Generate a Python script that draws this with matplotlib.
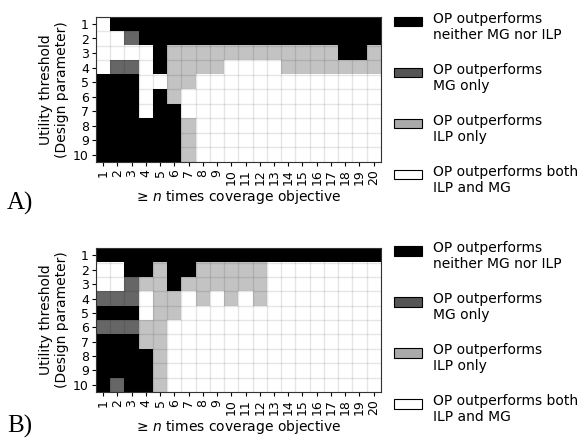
import numpy as np
import matplotlib
matplotlib.use("Agg")
import matplotlib.pyplot as plt
from matplotlib.colors import ListedColormap
from matplotlib.patches import Patch, Rectangle
from matplotlib.legend_handler import HandlerPatch

# Categories: 0 = OP outperforms both, 1 = ILP only, 2 = MG only, 3 = neither
categories = ["OP outperforms\nneither MG nor ILP", "OP outperforms\nMG only",
              "OP outperforms\nILP only", "OP outperforms both\nILP and MG"]
category_codes = [3, 2, 1, 0]

thresholds = list(range(1, 11))
coverage_n = list(range(1, 21))

grid_a = [
    [0, 3, 3, 3, 3, 3, 3, 3, 3, 3, 3, 3, 3, 3, 3, 3, 3, 3, 3, 3],
    [0, 0, 2, 3, 3, 3, 3, 3, 3, 3, 3, 3, 3, 3, 3, 3, 3, 3, 3, 3],
    [0, 0, 0, 0, 3, 1, 1, 1, 1, 1, 1, 1, 1, 1, 1, 1, 1, 3, 3, 1],
    [0, 2, 2, 0, 3, 1, 1, 1, 1, 0, 0, 0, 0, 1, 1, 1, 1, 1, 1, 1],
    [3, 3, 3, 0, 0, 1, 1, 0, 0, 0, 0, 0, 0, 0, 0, 0, 0, 0, 0, 0],
    [3, 3, 3, 0, 3, 1, 0, 0, 0, 0, 0, 0, 0, 0, 0, 0, 0, 0, 0, 0],
    [3, 3, 3, 0, 3, 3, 0, 0, 0, 0, 0, 0, 0, 0, 0, 0, 0, 0, 0, 0],
    [3, 3, 3, 3, 3, 3, 1, 0, 0, 0, 0, 0, 0, 0, 0, 0, 0, 0, 0, 0],
    [3, 3, 3, 3, 3, 3, 1, 0, 0, 0, 0, 0, 0, 0, 0, 0, 0, 0, 0, 0],
    [3, 3, 3, 3, 3, 3, 1, 0, 0, 0, 0, 0, 0, 0, 0, 0, 0, 0, 0, 0],
]

grid_b = [
    [3, 3, 3, 3, 3, 3, 3, 3, 3, 3, 3, 3, 3, 3, 3, 3, 3, 3, 3, 3],
    [0, 0, 3, 3, 1, 3, 3, 1, 1, 1, 1, 1, 0, 0, 0, 0, 0, 0, 0, 0],
    [0, 0, 2, 1, 1, 3, 1, 1, 1, 1, 1, 1, 0, 0, 0, 0, 0, 0, 0, 0],
    [2, 2, 2, 0, 1, 1, 0, 1, 0, 1, 0, 1, 0, 0, 0, 0, 0, 0, 0, 0],
    [3, 3, 3, 0, 1, 1, 0, 0, 0, 0, 0, 0, 0, 0, 0, 0, 0, 0, 0, 0],
    [2, 2, 2, 1, 1, 0, 0, 0, 0, 0, 0, 0, 0, 0, 0, 0, 0, 0, 0, 0],
    [3, 3, 3, 1, 1, 0, 0, 0, 0, 0, 0, 0, 0, 0, 0, 0, 0, 0, 0, 0],
    [3, 3, 3, 3, 1, 0, 0, 0, 0, 0, 0, 0, 0, 0, 0, 0, 0, 0, 0, 0],
    [3, 3, 3, 3, 1, 0, 0, 0, 0, 0, 0, 0, 0, 0, 0, 0, 0, 0, 0, 0],
    [3, 2, 3, 3, 1, 0, 0, 0, 0, 0, 0, 0, 0, 0, 0, 0, 0, 0, 0, 0],
]

cell_colors = ["#ffffff", "#c3c3c3", "#666666", "#000000"]
legend_colors = {3: "#000000", 2: "#555555", 1: "#aaaaaa", 0: "#ffffff"}

plt.rcParams["font.family"] = ["DejaVu Sans"]
fig = plt.figure(figsize=(5.85, 4.4), dpi=100)

cmap = ListedColormap(cell_colors)


def draw_panel(ax, grid):
    data = np.array(grid)
    ax.imshow(data, cmap=cmap, vmin=-0.5, vmax=3.5, aspect="auto",
              interpolation="nearest",
              extent=(coverage_n[0] - 0.5, coverage_n[-1] + 0.5,
                      thresholds[-1] + 0.5, thresholds[0] - 0.5))
    ax.set_xticks(coverage_n)
    ax.set_xticklabels([str(v) for v in coverage_n], rotation=90, fontsize=9)
    ax.set_yticks(thresholds)
    ax.set_yticklabels([str(v) for v in thresholds], fontsize=9)
    ax.set_xticks(np.arange(coverage_n[0] - 0.5, coverage_n[-1] + 1), minor=True)
    ax.set_yticks(np.arange(thresholds[0] - 0.5, thresholds[-1] + 1), minor=True)
    ax.grid(which="minor", color="k", alpha=0.1, linewidth=1)
    ax.tick_params(which="minor", length=0)
    ax.tick_params(which="major", length=3, pad=2)
    ax.set_xlabel("\u2265 $n$ times coverage objective", fontsize=10, labelpad=2)
    ax.set_ylabel("Utility threshold\n(Design parameter)", fontsize=10, labelpad=3)
    for s in ax.spines.values():
        s.set_linewidth(0.8)
        s.set_color("#333333")


ax_a = fig.add_axes([0.164, 0.632, 0.487, 0.330])
ax_b = fig.add_axes([0.164, 0.109, 0.487, 0.327])
draw_panel(ax_a, grid_a)
draw_panel(ax_b, grid_b)


def top_patch(legend, orig_handle, xdescent, ydescent, width, height, fontsize):
    return Rectangle((-xdescent, -ydescent + 0.45 * fontsize), width, height)


handles = [Patch(facecolor=legend_colors[c], edgecolor="black", linewidth=0.8)
           for c in category_codes]
for y in (0.995, 0.474):
    fig.legend(handles, categories, loc="upper left", bbox_to_anchor=(0.657, y),
               frameon=False, fontsize=10, labelspacing=1.5, handlelength=2.0,
               handleheight=0.7, borderpad=0.2,
               handler_map={Patch: HandlerPatch(patch_func=top_patch)})

fig.text(0.012, 0.524, "A)", family="Liberation Serif", fontsize=18)
fig.text(0.012, 0.016, "B)", family="Liberation Serif", fontsize=18)

fig.savefig("out.png", dpi=100)
